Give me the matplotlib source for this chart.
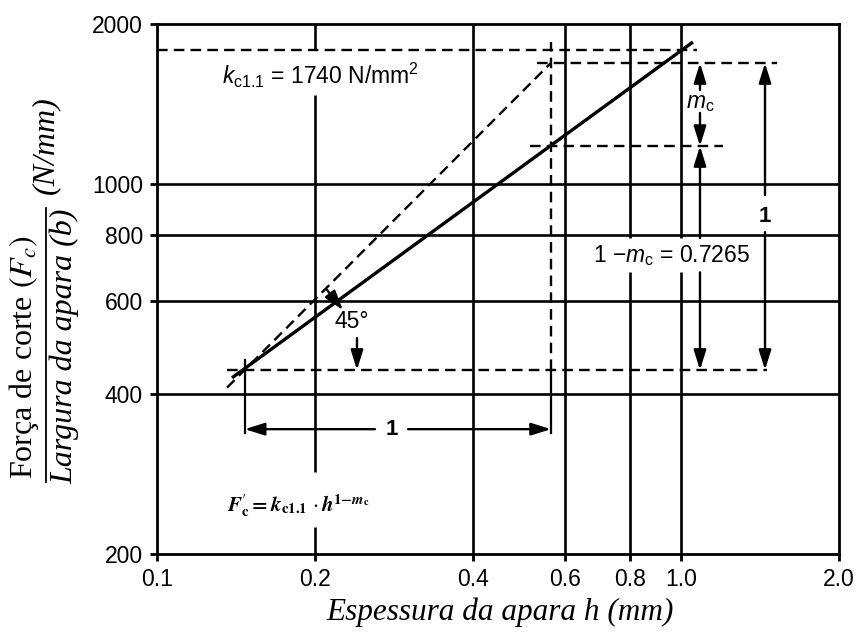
import matplotlib
matplotlib.use("Agg")
import matplotlib.pyplot as plt

plt.rcParams['mathtext.fontset'] = 'custom'
plt.rcParams['mathtext.rm'] = 'Liberation Sans'
plt.rcParams['mathtext.it'] = 'Liberation Sans:italic'
plt.rcParams['mathtext.bf'] = 'Liberation Sans:bold'

# ---- data ----
h_ticks = [0.1, 0.2, 0.4, 0.6, 0.8, 1.0, 2.0]
h_tick_labels = ['0.1', '0.2', '0.4', '0.6', '0.8', '1.0', '2.0']
F_ticks = [200, 400, 600, 800, 1000, 2000]
F_tick_labels = ['200', '400', '600', '800', '1000', '2000']

# main characteristic line  F = kc1.1 * h^(1-mc)
main_h = [0.139, 1.053]
main_F = [430, 1850]
# 45 degree construction line
diag_h = [0.136, 0.5645]
diag_F = [412, 1690]

# horizontal grid lines (full width)
grid_F = [400, 600, 800, 1000]
# vertical grid lines: value and list of (F_low, F_high) segments
grid_h_segments = {
    0.2: [(1786, 2000), (285.6, 1469), (200, 224.9)],
    0.4: [(200, 2000)],
    0.6: [(200, 2000)],
    0.8: [(200, 680), (789, 2000)],
    1.0: [(200, 680), (789, 2000)],
}

# dashed horizontal construction lines: (F, h_start, h_end)
dashed_h = [
    (1786, 0.1, 1.072),
    (1688, 0.531, 1.523),
    (1177, 0.5148, 1.201),
    (445, 0.136, 1.458),
]
# dashed vertical construction line (h, F_low, F_high)
dashed_v = (0.5645, 445, 1849)
# solid extension lines for the horizontal "1" dimension (h, F_low, F_high)
ext_lines = [(0.147, 338, 464), (0.5645, 338, 445)]

# dimension arrows: (tail, tip)
arrows = [
    ((0.2605, 344), (0.147, 344)),     # horizontal "1", left
    ((0.3012, 344), (0.5645, 344)),    # horizontal "1", right
    ((1.086, 1502), (1.086, 1688)),    # m_c up
    ((1.086, 1359), (1.086, 1177)),    # m_c down
    ((1.086, 789), (1.086, 1177)),     # 1-m_c up
    ((1.086, 680), (1.086, 445)),      # 1-m_c down
    ((1.445, 951), (1.445, 1688)),     # vertical "1" up
    ((1.445, 810), (1.445, 445)),      # vertical "1" down
    ((0.2407, 511), (0.2407, 445)),    # 45 deg pointer
    ((0.211, 630), (0.2263, 577)),     # 45 deg arc mark
]

fig = plt.figure(figsize=(8.57, 6.34), dpi=100)
ax = fig.add_axes([0.1832, 0.1262, 0.7958, 0.8359])
ax.set_xscale('log')
ax.set_yscale('log')
ax.set_xlim(0.1, 2.0)
ax.set_ylim(200, 2000)

lw_grid = 1.9
for F in grid_F:
    ax.hlines(F, 0.1, 2.0, color='k', lw=lw_grid, zorder=2)
for h, segs in grid_h_segments.items():
    for lo, hi in segs:
        ax.vlines(h, lo, hi, color='k', lw=lw_grid, zorder=2)

dash = (0, (4.5, 2.6))
for F, h0, h1 in dashed_h:
    ax.plot([h0, h1], [F, F], color='k', lw=1.7, linestyle=dash, zorder=3)
ax.plot([dashed_v[0], dashed_v[0]], [dashed_v[1], dashed_v[2]],
        color='k', lw=1.7, linestyle=dash, zorder=3)
ax.plot(diag_h, diag_F, color='k', lw=1.7, linestyle=dash, zorder=3)
for h, lo, hi in ext_lines:
    ax.plot([h, h], [lo, hi], color='k', lw=1.6, zorder=3)

ax.plot(main_h, main_F, color='k', lw=2.4, zorder=4, solid_capstyle='butt')

for tail, tip in arrows:
    ax.annotate('', xy=tip, xytext=tail,
                arrowprops=dict(arrowstyle='-|>,head_length=0.8,head_width=0.25',
                                color='k', lw=1.7, mutation_scale=15,
                                shrinkA=0, shrinkB=0), zorder=5)

# text annotations
sans = 'Liberation Sans'
ax.text(0.2047, 1602, r'$k_{\mathrm{c1.1}}$ = 1740 N/mm$^{2}$', fontsize=16.5,
        family=sans, ha='center', va='center')
ax.text(0.956, 733, r'1 $-m_{\mathrm{c}}$ = 0.7265', fontsize=16.5,
        family=sans, ha='center', va='center')
ax.text(1.086, 1425, r'$m_{\mathrm{c}}$', fontsize=16.5, family=sans,
        ha='center', va='center')
ax.text(1.445, 865, '1', fontsize=16, family=sans, weight='bold',
        ha='center', va='center')
ax.text(0.2808, 344, '1', fontsize=16, family=sans, weight='bold',
        ha='center', va='center')
ax.text(0.2355, 548, r'45°', fontsize=16.5, family=sans,
        ha='center', va='center')
ax.text(0.1858, 247,
        r"$\mathbfit{F}_{\mathbf{c}}^{\prime}\mathbf{=}\mathbfit{k}_{\mathbf{c1.1}}\,\cdot\mathbfit{h}^{\mathbf{1}\mathbf{-}\mathbfit{m}_{\mathbf{c}}}$",
        fontsize=15, math_fontfamily='stix', ha='center', va='center')

# axes styling
for s in ax.spines.values():
    s.set_linewidth(2.0)
ax.set_xticks(h_ticks)
ax.set_xticklabels(h_tick_labels)
ax.set_yticks(F_ticks)
ax.set_yticklabels(F_tick_labels)
ax.minorticks_off()
ax.tick_params(axis='both', which='major', direction='out', length=5,
               width=2.0, labelsize=16.5, pad=5)
for lab in ax.get_xticklabels() + ax.get_yticklabels():
    lab.set_family(sans)

# x label
fig.text(500 / 857, 1 - 612 / 634, 'Espessura da apara h (mm)',
         family='Liberation Serif', style='italic', fontsize=22.5,
         ha='center', va='center')

# y label: fraction
serif = 'Liberation Serif'
fig.text(24 / 857, 1 - 357 / 634, r'Força de corte $(F_c)$', rotation=90,
         family=serif, fontsize=23, ha='center', va='center',
         math_fontfamily='stix')
fig.text(65 / 857, 1 - 346 / 634, 'Largura da apara (b)', rotation=90,
         family=serif, style='italic', fontsize=23, ha='center', va='center')
fig.text(46 / 857, 1 - 145 / 634, '(N/mm)', rotation=90,
         family=serif, style='italic', fontsize=23, ha='center', va='center')
fig.add_artist(plt.Line2D([46 / 857, 46 / 857], [1 - 482 / 634, 1 - 208 / 634],
                          transform=fig.transFigure, color='k', lw=1.3))

fig.savefig('out.png', dpi=100)
